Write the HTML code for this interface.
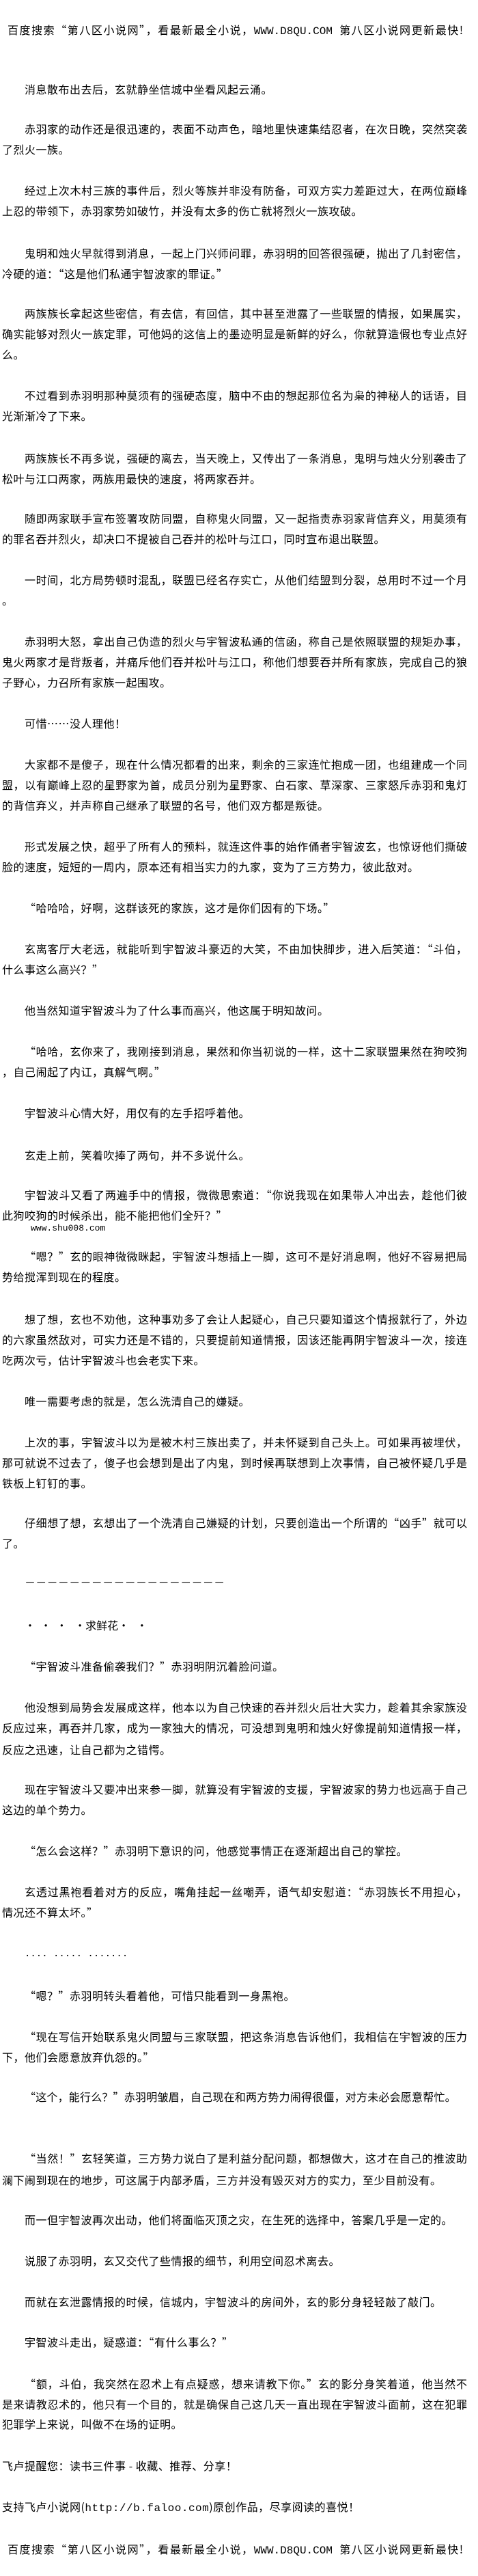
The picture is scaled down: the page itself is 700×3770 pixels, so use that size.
<!DOCTYPE html>
<html><head><meta charset="utf-8">
<style>
html,body{margin:0;padding:0;background:#fff;}
body{width:700px;height:3770px;position:relative;overflow:hidden;color:#000;
font-family:"Noto Sans CJK SC","WenQuanYi Zen Hei",sans-serif;font-size:16px;}
.l{position:absolute;height:30px;line-height:30px;white-space:nowrap;letter-spacing:0.5px;}
.f{left:3px;width:681px;text-align:justify;text-align-last:justify;letter-spacing:0;}
.fi{left:36px;width:648px;text-align:justify;text-align-last:justify;letter-spacing:0;}
.s{left:3px;}
.si{left:36px;}
.h{left:11px;width:667px;text-align:justify;text-align-last:justify;letter-spacing:0;}
.m{font-family:"Liberation Mono",monospace;}
</style></head><body>
<div class="l h" style="top:28px">百度搜索“第八区小说网”，看最新最全小说，<span class="m">WWW.D8QU.COM</span>&nbsp;&nbsp;第八区小说网更新最快!</div>

<div class="l si" style="top:115px">消息散布出去后，玄就静坐信城中坐看风起云涌。</div>
<div class="l fi" style="top:173px">赤羽家的动作还是很迅速的，表面不动声色，暗地里快速集结忍者，在次日晚，突然突袭</div>
<div class="l s" style="top:203px">了烈火一族。</div>
<div class="l fi" style="top:263px">经过上次木村三族的事件后，烈火等族并非没有防备，可双方实力差距过大，在两位巅峰</div>
<div class="l s" style="top:293px">上忍的带领下，赤羽家势如破竹，并没有太多的伤亡就将烈火一族攻破。</div>
<div class="l fi" style="top:355px">鬼明和烛火早就得到消息，一起上门兴师问罪，赤羽明的回答很强硬，抛出了几封密信，</div>
<div class="l s" style="top:385px">冷硬的道：“这是他们私通宇智波家的罪证。”</div>
<div class="l fi" style="top:443px">两族族长拿起这些密信，有去信，有回信，其中甚至泄露了一些联盟的情报，如果属实，</div>
<div class="l f" style="top:473px">确实能够对烈火一族定罪，可他妈的这信上的墨迹明显是新鲜的好么，你就算造假也专业点好</div>
<div class="l s" style="top:503px">么。</div>
<div class="l fi" style="top:563px">不过看到赤羽明那种莫须有的强硬态度，脑中不由的想起那位名为枭的神秘人的话语，目</div>
<div class="l s" style="top:593px">光渐渐冷了下来。</div>
<div class="l fi" style="top:655px">两族族长不再多说，强硬的离去，当天晚上，又传出了一条消息，鬼明与烛火分别袭击了</div>
<div class="l s" style="top:685px">松叶与江口两家，两族用最快的速度，将两家吞并。</div>
<div class="l fi" style="top:743px">随即两家联手宣布签署攻防同盟，自称鬼火同盟，又一起指责赤羽家背信弃义，用莫须有</div>
<div class="l s" style="top:773px">的罪名吞并烈火，却决口不提被自己吞并的松叶与江口，同时宣布退出联盟。</div>
<div class="l fi" style="top:833px">一时间，北方局势顿时混乱，联盟已经名存实亡，从他们结盟到分裂，总用时不过一个月</div>
<div class="l s" style="top:863px">。</div>
<div class="l fi" style="top:923px">赤羽明大怒，拿出自己伪造的烈火与宇智波私通的信函，称自己是依照联盟的规矩办事，</div>
<div class="l f" style="top:953px">鬼火两家才是背叛者，并痛斥他们吞并松叶与江口，称他们想要吞并所有家族，完成自己的狼</div>
<div class="l s" style="top:983px">子野心，力召所有家族一起围攻。</div>
<div class="l si" style="top:1043px">可惜……没人理他！</div>
<div class="l fi" style="top:1103px">大家都不是傻子，现在什么情况都看的出来，剩余的三家连忙抱成一团，也组建成一个同</div>
<div class="l f" style="top:1133px">盟，以有巅峰上忍的星野家为首，成员分别为星野家、白石家、草深家、三家怒斥赤羽和鬼灯</div>
<div class="l s" style="top:1163px">的背信弃义，并声称自己继承了联盟的名号，他们双方都是叛徒。</div>
<div class="l fi" style="top:1223px">形式发展之快，超乎了所有人的预料，就连这件事的始作俑者宇智波玄，也惊讶他们撕破</div>
<div class="l s" style="top:1253px">脸的速度，短短的一周内，原本还有相当实力的九家，变为了三方势力，彼此敌对。</div>
<div class="l si" style="top:1313px">“哈哈哈，好啊，这群该死的家族，这才是你们因有的下场。”</div>
<div class="l fi" style="top:1373px">玄离客厅大老远，就能听到宇智波斗豪迈的大笑，不由加快脚步，进入后笑道：“斗伯，</div>
<div class="l s" style="top:1403px">什么事这么高兴？”</div>
<div class="l si" style="top:1463px">他当然知道宇智波斗为了什么事而高兴，他这属于明知故问。</div>
<div class="l fi" style="top:1523px">“哈哈，玄你来了，我刚接到消息，果然和你当初说的一样，这十二家联盟果然在狗咬狗</div>
<div class="l s" style="top:1553px">，自己闹起了内讧，真解气啊。”</div>
<div class="l si" style="top:1613px">宇智波斗心情大好，用仅有的左手招呼着他。</div>
<div class="l si" style="top:1675px">玄走上前，笑着吹捧了两句，并不多说什么。</div>
<div class="l fi" style="top:1733px">宇智波斗又看了两遍手中的情报，微微思索道：“你说我现在如果带人冲出去，趁他们彼</div>
<div class="l s" style="top:1763px">此狗咬狗的时候杀出，能不能把他们全歼？”</div>
<div class="l m" style="top:1783px;left:45px;font-size:13px;letter-spacing:0;">www.shu008.com</div>
<div class="l fi" style="top:1823px">“嗯？”玄的眼神微微眯起，宇智波斗想插上一脚，这可不是好消息啊，他好不容易把局</div>
<div class="l s" style="top:1853px">势给搅浑到现在的程度。</div>
<div class="l fi" style="top:1915px">想了想，玄也不劝他，这种事劝多了会让人起疑心，自己只要知道这个情报就行了，外边</div>
<div class="l f" style="top:1945px">的六家虽然敌对，可实力还是不错的，只要提前知道情报，因该还能再阴宇智波斗一次，接连</div>
<div class="l s" style="top:1975px">吃两次亏，估计宇智波斗也会老实下来。</div>
<div class="l si" style="top:2035px">唯一需要考虑的就是，怎么洗清自己的嫌疑。</div>
<div class="l fi" style="top:2095px">上次的事，宇智波斗以为是被木村三族出卖了，并未怀疑到自己头上。可如果再被埋伏，</div>
<div class="l f" style="top:2125px">那可就说不过去了，傻子也会想到是出了内鬼，到时候再联想到上次事情，自己被怀疑几乎是</div>
<div class="l s" style="top:2155px">铁板上钉钉的事。</div>
<div class="l fi" style="top:2213px">仔细想了想，玄想出了一个洗清自己嫌疑的计划，只要创造出一个所谓的“凶手”就可以</div>
<div class="l s" style="top:2243px">了。</div>
<div class="l si" style="top:2300px;letter-spacing:0.3px">－－－－－－－－－－－－－－－－－－</div>
<div class="l si" style="top:2363px;letter-spacing:0">·&nbsp;&nbsp;·&nbsp;&nbsp;·&nbsp;&nbsp;&nbsp;·求鲜花·&nbsp;&nbsp;&nbsp;·</div>
<div class="l si" style="top:2423px">“宇智波斗准备偷袭我们？”赤羽明阴沉着脸问道。</div>
<div class="l fi" style="top:2483px">他没想到局势会发展成这样，他本以为自己快速的吞并烈火后壮大实力，趁着其余家族没</div>
<div class="l f" style="top:2513px">反应过来，再吞并几家，成为一家独大的情况，可没想到鬼明和烛火好像提前知道情报一样，</div>
<div class="l s" style="top:2545px">反应之迅速，让自己都为之错愕。</div>
<div class="l fi" style="top:2603px">现在宇智波斗又要冲出来参一脚，就算没有宇智波的支援，宇智波家的势力也远高于自己</div>
<div class="l s" style="top:2633px">这边的单个势力。</div>
<div class="l si" style="top:2693px">“怎么会这样？”赤羽明下意识的问，他感觉事情正在逐渐超出自己的掌控。</div>
<div class="l fi" style="top:2753px">玄透过黑袍看着对方的反应，嘴角挂起一丝嘲弄，语气却安慰道：“赤羽族长不用担心，</div>
<div class="l s" style="top:2783px">情况还不算太坏。”</div>
<div class="l si m" style="top:2845px;font-size:14px;letter-spacing:0">....&nbsp;.....&nbsp;.......</div>
<div class="l si" style="top:2905px">“嗯？”赤羽明转头看着他，可惜只能看到一身黑袍。</div>
<div class="l fi" style="top:2965px">“现在写信开始联系鬼火同盟与三家联盟，把这条消息告诉他们，我相信在宇智波的压力</div>
<div class="l s" style="top:2995px">下，他们会愿意放弃仇怨的。”</div>
<div class="l si" style="top:3053px;letter-spacing:0.2px">“这个，能行么？”赤羽明皱眉，自己现在和两方势力闹得很僵，对方未必会愿意帮忙。</div>
<div class="l fi" style="top:3143px">“当然！”玄轻笑道，三方势力说白了是利益分配问题，都想做大，这才在自己的推波助</div>
<div class="l s" style="top:3175px">澜下闹到现在的地步，可这属于内部矛盾，三方并没有毁灭对方的实力，至少目前没有。</div>
<div class="l si" style="top:3233px">而一但宇智波再次出动，他们将面临灭顶之灾，在生死的选择中，答案几乎是一定的。</div>
<div class="l si" style="top:3293px">说服了赤羽明，玄又交代了些情报的细节，利用空间忍术离去。</div>
<div class="l si" style="top:3353px">而就在玄泄露情报的时候，信城内，宇智波斗的房间外，玄的影分身轻轻敲了敲门。</div>
<div class="l si" style="top:3412px">宇智波斗走出，疑惑道：“有什么事么？”</div>
<div class="l fi" style="top:3473px">“额，斗伯，我突然在忍术上有点疑惑，想来请教下你。”玄的影分身笑着道，他当然不</div>
<div class="l f" style="top:3503px">是来请教忍术的，他只有一个目的，就是确保自己这几天一直出现在宇智波斗面前，这在犯罪</div>
<div class="l s" style="top:3532px">犯罪学上来说，叫做不在场的证明。</div>
<div class="l s" style="top:3593px">飞卢提醒您：读书三件事 - 收藏、推荐、分享！</div>
<div class="l s" style="top:3653px">支持飞卢小说网(<span class="m">http://b.faloo.com</span>)原创作品，尽享阅读的喜悦！</div>
<div class="l h" style="top:3715px">百度搜索“第八区小说网”，看最新最全小说，<span class="m">WWW.D8QU.COM</span>&nbsp;&nbsp;第八区小说网更新最快!</div>
</body></html>
